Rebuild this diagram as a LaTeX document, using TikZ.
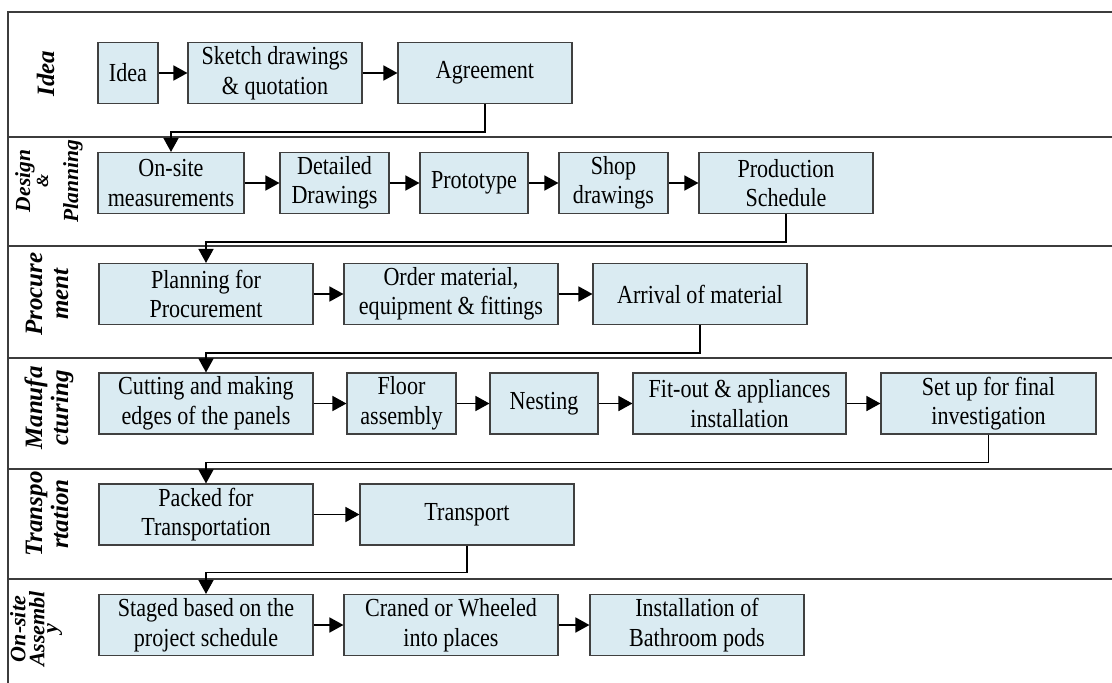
\documentclass[tikz,border=0pt]{standalone}
\usepackage{fontspec}
\setmainfont{Liberation Serif}
% narrow, tall serif for the step boxes
\newfontfamily\stepfont[FakeStretch=0.85]{Liberation Serif}
\usetikzlibrary{arrows.meta}
\definecolor{boxfill}{RGB}{218,235,242}
\definecolor{boxline}{RGB}{64,64,64}
\definecolor{laneline}{RGB}{60,60,60}

\begin{document}
\begin{tikzpicture}[x=1pt,y=-1pt,
  stepbox/.style={draw=boxline, line width=1.1pt, fill=boxfill, align=center,
    inner sep=0pt, minimum height=61pt,
    font=\stepfont\fontsize{26}{29.5}\selectfont},
  flow/.style={draw=black, line width=1.6pt, -{Triangle[length=14pt,width=15pt]}},
  lane/.style={draw=laneline, line width=1.3pt},
  lanelabel/.style={rotate=90, align=center, inner sep=0pt,
    font=\fontsize{25}{26}\selectfont\bfseries\itshape}]
\useasboundingbox (0,0) rectangle (1112,683);

% swimlane frame
\draw[lane] (1112,12) -- (8,12) -- (8,683);
\foreach \yy in {137,246,358,469,579}
  \draw[lane] (8,\yy) -- (1112,\yy);

% lane titles
\node[lanelabel] (lIdea) at (45.5,73.5) {Idea};
\node[lanelabel, font=\fontsize{21.5}{18}\selectfont\bfseries\itshape] (lDesign) at (49,181)
  {Design\\{\fontsize{17}{18}\selectfont\&}\\[12pt]Planning};
\node[lanelabel] (lProc) at (47,294) {Procure\\ment};
\node[lanelabel] (lManu) at (49,408) {Manufa\\cturing};
\node[lanelabel] (lTrans) at (47,514) {Transpo\\rtation};
\node[lanelabel, font=\fontsize{22}{19}\selectfont\bfseries\itshape] (lSite) at (36,629)
  {On-site\\Assembl\\[-6pt]y};

% Idea
\node[stepbox, minimum width=60pt]  (idea)   at (128,73)   {Idea};
\node[stepbox, minimum width=174pt] (sketch) at (275,73)   {Sketch drawings\\\& quotation};
\node[stepbox, minimum width=174pt] (agree)  at (485,73)   {Agreement};

% Design & Planning
\node[stepbox, minimum width=146pt] (onsite) at (171,183)   {On-site\\measurements};
\node[stepbox, minimum width=109pt] (detail) at (334.5,183) {Detailed\\Drawings};
\node[stepbox, minimum width=108pt] (proto)  at (474,183)   {Prototype};
\node[stepbox, minimum width=109pt] (shop)   at (613.5,183) {Shop\\drawings};
\node[stepbox, minimum width=174pt] (prod)   at (786,183)   {Production\\Schedule};

% Procurement
\node[stepbox, minimum width=214pt] (plan)   at (206,294) {Planning for\\Procurement};
\node[stepbox, minimum width=214pt] (order)  at (451,294) {Order material,\\equipment \& fittings};
\node[stepbox, minimum width=214pt] (arrive) at (700,294) {Arrival of material};

% Manufacturing
\node[stepbox, minimum width=214pt] (cut)   at (206,403.5)   {Cutting and making\\edges of the panels};
\node[stepbox, minimum width=109pt] (floor) at (401.5,403.5) {Floor\\assembly};
\node[stepbox, minimum width=108pt] (nest)  at (544,403.5)   {Nesting};
\node[stepbox, minimum width=213pt] (fit)   at (739.5,403.5) {Fit-out \& appliances\\installation};
\node[stepbox, minimum width=215pt] (setup) at (988.5,403.5) {Set up for final\\investigation};

% Transportation
\node[stepbox, minimum width=214pt] (pack)   at (206,514.5) {Packed for\\Transportation};
\node[stepbox, minimum width=214pt] (transp) at (467,514.5) {Transport};

% On-site Assembly
\node[stepbox, minimum width=214pt] (stage)   at (206,625) {Staged based on the\\project schedule};
\node[stepbox, minimum width=214pt] (crane)   at (451,625) {Craned or Wheeled\\into places};
\node[stepbox, minimum width=214pt] (install) at (697,625) {Installation of\\Bathroom pods};

% flow within lanes
\draw[flow] (idea) -- (sketch);
\draw[flow] (sketch) -- (agree);
\draw[flow] (onsite) -- (detail);
\draw[flow] (detail) -- (proto);
\draw[flow] (proto) -- (shop);
\draw[flow] (shop) -- (prod);
\draw[flow] (plan) -- (order);
\draw[flow] (order) -- (arrive);
\draw[flow] (cut) -- (floor);
\draw[flow] (floor) -- (nest);
\draw[flow] (nest) -- (fit);
\draw[flow] (fit) -- (setup);
\draw[flow] (pack) -- (transp);
\draw[flow] (stage) -- (crane);
\draw[flow] (crane) -- (install);

% hand-over between lanes
\draw[flow] (agree.south)  -- ++(0,28) -| (onsite.north);
\draw[flow] (prod.south)   -- ++(0,28) -| (plan.north);
\draw[flow] (arrive.south) -- ++(0,28) -| (cut.north);
\draw[flow] (setup.south)  -- ++(0,28) -| (pack.north);
\draw[flow] (transp.south) -- ++(0,27) -| (stage.north);
\end{tikzpicture}
\end{document}
